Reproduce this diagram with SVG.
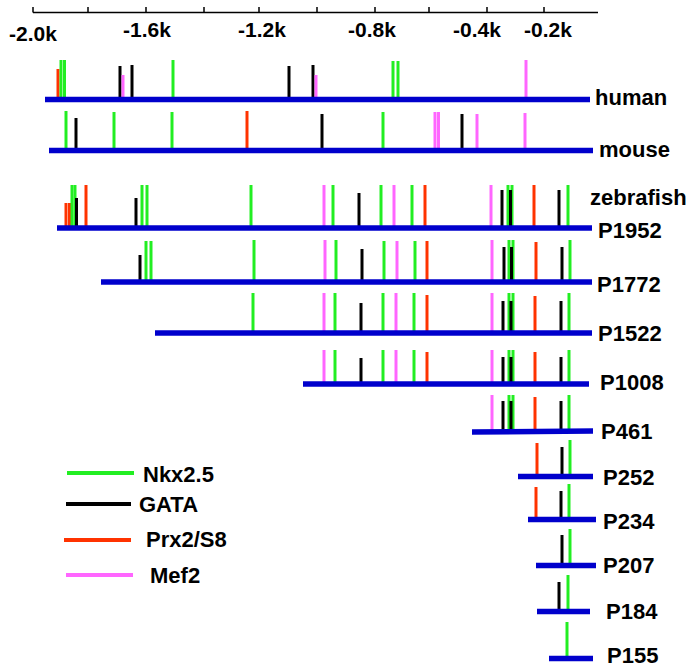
<svg xmlns="http://www.w3.org/2000/svg" width="700" height="670" viewBox="0 0 700 670">
<style>
text{font-family:"Liberation Sans",Arial,sans-serif;font-weight:bold;font-size:22px;fill:#000}
.ax{font-size:21px;text-anchor:middle}
.axis{stroke:#000;stroke-width:1.5;fill:none}
.bar{stroke:#0000cc;stroke-width:5.5}
.g{stroke:#22ee22;stroke-width:3}
.k{stroke:#000;stroke-width:3}
.r{stroke:#ff3300;stroke-width:3}
.p{stroke:#ff66ff;stroke-width:3}
.lg{stroke-width:4}
</style>
<rect width="700" height="670" fill="#fff"/>
<g id="axis">
<path class="axis" d="M33 12.5H598M33 7V12.5M88 7V12.5M146 7V12.5M204 7V12.5M259 7V12.5M317 7V12.5M375 7V12.5M429 7V12.5M487 7V12.5M544 7V12.5"/>
<text class="ax" x="33" y="41">-2.0k</text>
<text class="ax" x="147" y="37">-1.6k</text>
<text class="ax" x="262" y="37">-1.2k</text>
<text class="ax" x="372" y="37">-0.8k</text>
<text class="ax" x="477" y="37">-0.4k</text>
<text class="ax" x="548" y="37">-0.2k</text>
</g>
<g id="human">
<line class="r" x1="58" y1="69" x2="58" y2="99"/>
<line class="g" x1="61" y1="60" x2="61" y2="99"/>
<line class="g" x1="64.5" y1="60" x2="64.5" y2="99"/>
<line class="k" x1="120" y1="66" x2="120" y2="101"/>
<line class="p" x1="123" y1="75" x2="123" y2="99"/>
<line class="k" x1="132" y1="65" x2="132" y2="102"/>
<line class="g" x1="173" y1="60" x2="173" y2="99"/>
<line class="k" x1="289" y1="66" x2="289" y2="99"/>
<line class="k" x1="313" y1="65" x2="313" y2="99"/>
<line class="p" x1="316" y1="75" x2="316" y2="99"/>
<line class="g" x1="393" y1="61" x2="393" y2="99"/>
<line class="g" x1="398" y1="61" x2="398" y2="99"/>
<line class="p" x1="526" y1="60" x2="526" y2="99"/>
<line class="bar" x1="45" y1="99.5" x2="590" y2="99.5"/>
<text x="595" y="105">human</text>
</g>
<g id="mouse">
<line class="g" x1="66" y1="111" x2="66" y2="150"/>
<line class="k" x1="76" y1="118" x2="76" y2="153"/>
<line class="g" x1="114" y1="112" x2="114" y2="150"/>
<line class="g" x1="172" y1="112" x2="172" y2="150"/>
<line class="r" x1="247" y1="111" x2="247" y2="150"/>
<line class="k" x1="322" y1="114" x2="322" y2="150"/>
<line class="g" x1="383" y1="112" x2="383" y2="150"/>
<line class="p" x1="435" y1="112" x2="435" y2="150"/>
<line class="p" x1="438.5" y1="112" x2="438.5" y2="150"/>
<line class="k" x1="462" y1="114" x2="462" y2="150"/>
<line class="p" x1="477" y1="114" x2="477" y2="151"/>
<line class="p" x1="525" y1="113" x2="525" y2="150"/>
<line class="bar" x1="49" y1="150.5" x2="593" y2="150.5"/>
<text x="599" y="157">mouse</text>
</g>
<g id="P1952">
<line class="r" x1="66" y1="203" x2="66" y2="228"/>
<line class="r" x1="69.5" y1="203" x2="69.5" y2="228"/>
<line class="g" x1="72" y1="185" x2="72" y2="228"/>
<line class="g" x1="75" y1="185" x2="75" y2="228"/>
<line class="k" x1="76.5" y1="198" x2="76.5" y2="228"/>
<line class="r" x1="86" y1="185" x2="86" y2="228"/>
<line class="k" x1="136" y1="198" x2="136" y2="228"/>
<line class="g" x1="142" y1="185" x2="142" y2="228"/>
<line class="g" x1="147" y1="185" x2="147" y2="228"/>
<line class="g" x1="251" y1="185" x2="251" y2="228"/>
<line class="p" x1="324" y1="185" x2="324" y2="228"/>
<line class="g" x1="333" y1="185" x2="333" y2="228"/>
<line class="k" x1="359" y1="193" x2="359" y2="228"/>
<line class="g" x1="381" y1="185" x2="381" y2="228"/>
<line class="p" x1="394" y1="185" x2="394" y2="228"/>
<line class="g" x1="412" y1="185" x2="412" y2="228"/>
<line class="r" x1="425" y1="185" x2="425" y2="228"/>
<line class="p" x1="491" y1="185" x2="491" y2="228"/>
<line class="k" x1="502" y1="190" x2="502" y2="228"/>
<line class="g" x1="508" y1="185" x2="508" y2="228"/>
<line class="g" x1="512" y1="185" x2="512" y2="228"/>
<line class="k" x1="510.5" y1="190" x2="510.5" y2="228"/>
<line class="r" x1="534" y1="185" x2="534" y2="228"/>
<line class="k" x1="559" y1="190" x2="559" y2="228"/>
<line class="g" x1="568" y1="185" x2="568" y2="228"/>
<line class="bar" x1="57" y1="228" x2="592" y2="228"/>
<text x="590" y="205">zebrafish</text>
<text x="598" y="238">P1952</text>
</g>
<g id="P1772">
<line class="k" x1="140" y1="255" x2="140" y2="282"/>
<line class="g" x1="146" y1="241" x2="146" y2="282"/>
<line class="g" x1="151" y1="241" x2="151" y2="282"/>
<line class="g" x1="254" y1="240" x2="254" y2="282"/>
<line class="p" x1="325" y1="240" x2="325" y2="282"/>
<line class="g" x1="336" y1="240" x2="336" y2="282"/>
<line class="k" x1="362" y1="249" x2="362" y2="282"/>
<line class="g" x1="384" y1="241" x2="384" y2="282"/>
<line class="p" x1="397" y1="241" x2="397" y2="282"/>
<line class="g" x1="415" y1="241" x2="415" y2="282"/>
<line class="r" x1="427" y1="241" x2="427" y2="282"/>
<line class="p" x1="492" y1="240" x2="492" y2="282"/>
<line class="k" x1="504" y1="247" x2="504" y2="282"/>
<line class="g" x1="509" y1="240" x2="509" y2="282"/>
<line class="g" x1="513" y1="240" x2="513" y2="282"/>
<line class="k" x1="511.5" y1="247" x2="511.5" y2="282"/>
<line class="r" x1="536" y1="242" x2="536" y2="282"/>
<line class="k" x1="562" y1="247" x2="562" y2="282"/>
<line class="g" x1="570" y1="240" x2="570" y2="282"/>
<line class="bar" x1="101" y1="282" x2="592" y2="282"/>
<text x="597" y="292">P1772</text>
</g>
<g id="P1522">
<line class="g" x1="253" y1="293" x2="253" y2="333"/>
<line class="p" x1="324" y1="293" x2="324" y2="333"/>
<line class="g" x1="335" y1="293" x2="335" y2="333"/>
<line class="k" x1="361" y1="303" x2="361" y2="333"/>
<line class="g" x1="383" y1="293" x2="383" y2="333"/>
<line class="p" x1="396" y1="293" x2="396" y2="333"/>
<line class="g" x1="414" y1="293" x2="414" y2="333"/>
<line class="r" x1="427" y1="295" x2="427" y2="333"/>
<line class="p" x1="492" y1="293" x2="492" y2="333"/>
<line class="k" x1="503" y1="301" x2="503" y2="333"/>
<line class="g" x1="509" y1="293" x2="509" y2="333"/>
<line class="g" x1="513" y1="293" x2="513" y2="333"/>
<line class="k" x1="511" y1="301" x2="511" y2="333"/>
<line class="r" x1="535" y1="296" x2="535" y2="333"/>
<line class="k" x1="561" y1="301" x2="561" y2="333"/>
<line class="g" x1="569" y1="293" x2="569" y2="333"/>
<line class="bar" x1="155" y1="333" x2="592" y2="333"/>
<text x="598" y="341">P1522</text>
</g>
<g id="P1008">
<line class="p" x1="324" y1="350" x2="324" y2="384"/>
<line class="g" x1="335" y1="350" x2="335" y2="384"/>
<line class="k" x1="361" y1="358" x2="361" y2="384"/>
<line class="g" x1="383" y1="350" x2="383" y2="384"/>
<line class="p" x1="396" y1="350" x2="396" y2="384"/>
<line class="g" x1="414" y1="350" x2="414" y2="384"/>
<line class="r" x1="427" y1="352" x2="427" y2="384"/>
<line class="p" x1="492" y1="350" x2="492" y2="384"/>
<line class="k" x1="503" y1="357" x2="503" y2="384"/>
<line class="g" x1="509" y1="350" x2="509" y2="384"/>
<line class="g" x1="513" y1="350" x2="513" y2="384"/>
<line class="k" x1="511" y1="357" x2="511" y2="384"/>
<line class="r" x1="535" y1="352" x2="535" y2="384"/>
<line class="k" x1="561" y1="357" x2="561" y2="384"/>
<line class="g" x1="569" y1="350" x2="569" y2="384"/>
<line class="bar" x1="303" y1="384" x2="589" y2="384"/>
<text x="600" y="390">P1008</text>
</g>
<g id="P461">
<line class="p" x1="492" y1="395" x2="492" y2="431"/>
<line class="k" x1="503" y1="401" x2="503" y2="431"/>
<line class="g" x1="509" y1="395" x2="509" y2="431"/>
<line class="g" x1="513" y1="395" x2="513" y2="431"/>
<line class="k" x1="511" y1="401" x2="511" y2="431"/>
<line class="r" x1="535" y1="397" x2="535" y2="431"/>
<line class="k" x1="561" y1="401" x2="561" y2="431"/>
<line class="g" x1="569" y1="395" x2="569" y2="431"/>
<line class="bar" x1="472" y1="432" x2="593" y2="431"/>
<text x="601" y="439">P461</text>
</g>
<g id="P252">
<line class="r" x1="537" y1="443" x2="537" y2="476"/>
<line class="k" x1="562" y1="447" x2="562" y2="476"/>
<line class="g" x1="570" y1="440" x2="570" y2="476"/>
<line class="bar" x1="518" y1="476.5" x2="593" y2="476.5"/>
<text x="603" y="485">P252</text>
</g>
<g id="P234">
<line class="r" x1="536" y1="487" x2="536" y2="519"/>
<line class="k" x1="561" y1="491" x2="561" y2="519"/>
<line class="g" x1="569" y1="484" x2="569" y2="519"/>
<line class="bar" x1="528" y1="519.5" x2="596" y2="519.5"/>
<text x="603" y="529">P234</text>
</g>
<g id="P207">
<line class="k" x1="562" y1="535" x2="562" y2="565"/>
<line class="g" x1="570" y1="529" x2="570" y2="565"/>
<line class="bar" x1="536" y1="565.5" x2="596" y2="565.5"/>
<text x="603" y="573">P207</text>
</g>
<g id="P184">
<line class="k" x1="559" y1="582" x2="559" y2="611"/>
<line class="g" x1="568" y1="575" x2="568" y2="611"/>
<line class="bar" x1="537" y1="611.5" x2="590" y2="611.5"/>
<text x="606" y="619">P184</text>
</g>
<g id="P155">
<line class="g" x1="567" y1="622" x2="567" y2="658"/>
<line class="bar" x1="549" y1="658.5" x2="593" y2="658.5"/>
<text x="607" y="663">P155</text>
</g>
<g id="legend">
<line class="g lg" x1="67" y1="473" x2="134" y2="473"/>
<text x="143" y="482">Nkx2.5</text>
<line class="k lg" x1="66" y1="504" x2="131" y2="504"/>
<text x="139" y="512">GATA</text>
<line class="r lg" x1="64" y1="540" x2="131" y2="540"/>
<text x="146" y="547">Prx2/S8</text>
<line class="p lg" x1="66" y1="575" x2="133" y2="575"/>
<text x="150" y="583">Mef2</text>
</g>
</svg>
